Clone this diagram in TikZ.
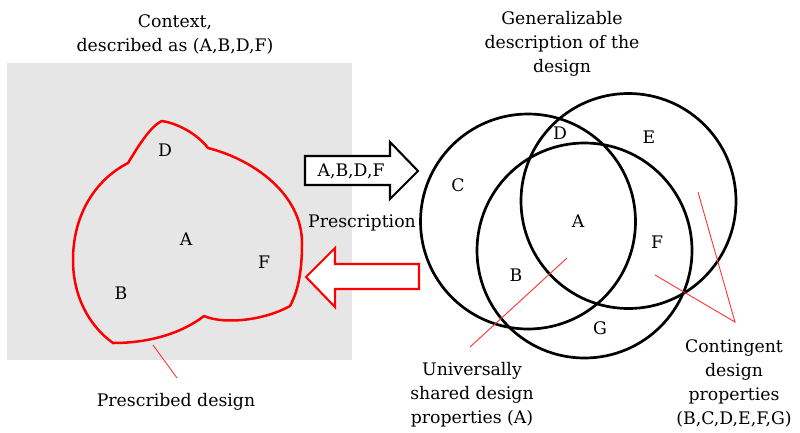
\documentclass[tikz,border=0pt]{standalone}
\usepackage{fontspec}
\setmainfont{DejaVu Serif}
\begin{document}
\begin{tikzpicture}[x=1pt,y=-1pt,
  txt/.style={font=\fontsize{17.3}{24}\selectfont, align=center, inner sep=0pt},
  lbl/.style={font=\fontsize{17.3}{20}\selectfont, inner sep=0pt},
  venn/.style={draw=black, line width=2.7pt},
  pointer/.style={draw=red!80, line width=0.9pt},
  ]
\definecolor{panel}{RGB}{230,230,230}
\useasboundingbox (0,0) rectangle (800,432);

% context panel
\fill[panel] (7,63) rectangle (352,360);

% prescribed design outline
\draw[red, line width=2.5pt, line join=round]
  (162,121) .. controls (180,124) and (198,135) .. (208,148)
  .. controls (255,160) and (302,195) .. (302,243)
  .. controls (302,275) and (297,293) .. (290,306)
  .. controls (265,320) and (225,325) .. (204,316)
  .. controls (182,333) and (150,343) .. (113,343)
  .. controls (88,325) and (73,295) .. (73,260)
  .. controls (73,215) and (95,180) .. (128,163)
  .. controls (136,150) and (150,126) .. (162,121) -- cycle;

\node[lbl] (pD) at (165,150) {D};
\node[lbl] (pA) at (186,239) {A};
\node[lbl] (pF) at (264,262) {F};
\node[lbl] (pB) at (121,293) {B};

\node[txt] (ctx) at (175,34) {Context,\\described as (A,B,D,F)};
\node[txt] (presc) at (176,402) {Prescribed design};
\coordinate (prescTip) at (153,345);
\coordinate (prescEnd) at (177,378);
\draw[pointer] (prescTip) -- (prescEnd);

% transfer arrows
\draw[black, line width=2.1pt, line join=miter, fill=white]
  (305,156) -- (390,156) -- (390,142) -- (418,171) -- (390,199) -- (390,185) -- (305,185) -- cycle;
\node[lbl] (abdf) at (351,171) {A,B,D,F};
\node[lbl] (prescription) at (362,223) {Prescription};
\draw[red, line width=2.1pt, line join=miter, fill=white]
  (419,264) -- (335,264) -- (335,248) -- (306,277) -- (335,307) -- (335,289) -- (419,289) -- cycle;

% generalizable description
\node[txt] (gen) at (562,44) {Generalizable\\description of the\\design};
\draw[venn] (528,221.5) circle[radius=107.5];
\draw[venn] (628.5,201) circle[radius=107.5];
\draw[venn] (584.5,250.5) circle[radius=107.5];

\node[lbl] (vD) at (560,133) {D};
\node[lbl] (vE) at (649,137) {E};
\node[lbl] (vC) at (458,185) {C};
\node[lbl] (vA) at (578,221) {A};
\node[lbl] (vF) at (657,242) {F};
\node[lbl] (vB) at (516,275) {B};
\node[lbl] (vG) at (600,328) {G};

\node[txt] (univ) at (472,395) {Universally\\shared design\\properties (A)};
\node[txt] (cont) at (734,383) {Contingent\\design\\properties\\(B,C,D,E,F,G)};

\coordinate (univTip) at (567,258);
\coordinate (univEnd) at (470,347);
\draw[pointer] (univTip) -- (univEnd);
\coordinate (contV) at (735,322);
\coordinate (contF) at (655,275);
\coordinate (contE) at (698,192);
\draw[pointer] (contF) -- (contV) -- (contE);
\end{tikzpicture}
\end{document}
